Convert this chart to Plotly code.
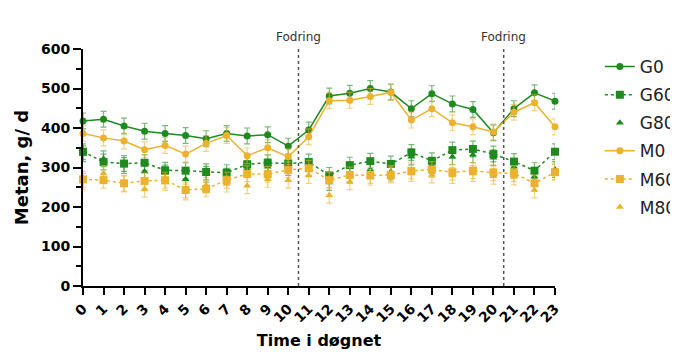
import plotly.graph_objects as go

hours = list(range(24))
tick_labels = [str(h) for h in hours]

G0 = [418, 422, 405, 392, 386, 381, 373, 386, 380, 383, 354, 395, 481, 488, 500, 491, 449, 487, 461, 447, 388, 449, 489, 468]
G60 = [340, 314, 310, 312, 293, 292, 289, 287, 308, 312, 310, 314, 280, 306, 316, 309, 338, 317, 344, 347, 334, 315, 292, 340]
G80 = [335, 322, 305, 290, 286, 270, 283, 278, 297, 302, 300, 300, 262, 281, 295, 289, 327, 305, 327, 332, 325, 302, 277, 295]
M0 = [386, 375, 367, 345, 356, 334, 361, 381, 330, 350, 327, 378, 469, 470, 480, 490, 420, 449, 413, 403, 390, 440, 464, 403]
M60 = [270, 268, 260, 266, 268, 243, 246, 268, 284, 283, 294, 298, 268, 281, 280, 281, 291, 295, 288, 292, 287, 285, 260, 288]
M80 = [265, 285, 258, 245, 262, 238, 255, 258, 254, 270, 268, 280, 230, 264, 275, 285, 285, 281, 280, 285, 278, 276, 243, 290]
err = 20

feeding_hours = [10.5, 20.5]
feeding_label = "Fodring"

GREEN = "#1f8a1f"
YELLOW = "#ecb22e"
GREEN_E = "rgba(31,138,31,0.6)"
YELLOW_E = "rgba(236,178,46,0.6)"

series = [
    ("G0", G0, GREEN, GREEN_E, "circle", "solid", "lines+markers", 7),
    ("G60", G60, GREEN, GREEN_E, "square", "dot", "lines+markers", 8),
    ("G80", G80, GREEN, GREEN_E, "triangle-up", "solid", "markers", 7),
    ("M0", M0, YELLOW, YELLOW_E, "circle", "solid", "lines+markers", 7),
    ("M60", M60, YELLOW, YELLOW_E, "square", "dot", "lines+markers", 8),
    ("M80", M80, YELLOW, YELLOW_E, "triangle-up", "solid", "markers", 7),
]

fig = go.Figure()
for name, vals, col, ecol, sym, dash, mode, size in series:
    fig.add_trace(go.Scatter(
        x=hours, y=vals, name=name, mode=mode, legendgroup=name,
        line=dict(color=col, width=1.5, dash=dash),
        marker=dict(color=col, symbol=sym, size=size),
        error_y=dict(type="constant", value=err, color=ecol, thickness=1.2, width=3),
        cliponaxis=False,
    ))

for fx in feeding_hours:
    fig.add_shape(type="line", x0=fx, x1=fx, y0=0, y1=600, xref="x", yref="y",
                  line=dict(color="#555555", width=1.5, dash="dot"))
    fig.add_annotation(x=fx, y=600, xref="x", yref="y", text=feeding_label,
                       showarrow=False, yshift=12,
                       font=dict(size=12, color="#333333", family="DejaVu Sans"))

fig.update_layout(
    width=670, height=348,
    margin=dict(l=75, r=123, t=41, b=70, autoexpand=False),
    plot_bgcolor="white", paper_bgcolor="white",
    font=dict(family="DejaVu Sans", color="black"),
    showlegend=True,
    legend=dict(x=1.095, y=1.0, xanchor="left", yanchor="top",
                font=dict(size=17, color="#222222", family="DejaVu Sans"), tracegroupgap=3,
                itemwidth=30),
    xaxis=dict(
        range=[0, 23], tickvals=hours, ticktext=tick_labels, tickangle=-45,
        showline=True, linecolor="black", linewidth=2, ticks="outside",
        ticklen=7, tickwidth=1.5, tickcolor="black", showgrid=False, zeroline=False,
        automargin=False,
        tickfont=dict(size=14, weight="bold"),
        title=dict(text="Time i døgnet", font=dict(size=16, weight="bold"), standoff=10),
    ),
    yaxis=dict(
        range=[0, 600], tickvals=[0, 100, 200, 300, 400, 500, 600],
        showline=True, linecolor="black", linewidth=2, ticks="outside",
        ticklen=8, tickwidth=1.5, tickcolor="black", showgrid=False, zeroline=False,
        automargin=False,
        tickfont=dict(size=14, weight="bold"),
        minor=dict(tickvals=[50, 150, 250, 350, 450, 550], ticks="outside", ticklen=5, tickcolor="black"),
        title=dict(text="Metan, g/ d", font=dict(size=18, weight="bold"), standoff=8),
    ),
)

fig.write_html("out.html")
